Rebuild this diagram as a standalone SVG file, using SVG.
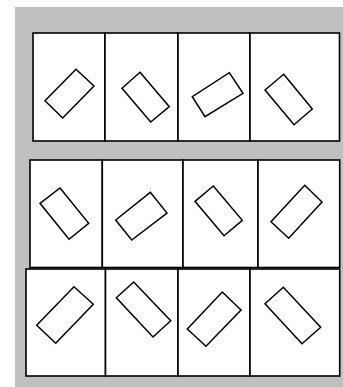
<svg xmlns="http://www.w3.org/2000/svg" width="343" height="387" viewBox="0 0 343 387">
<style>
.cell{fill:#fff;stroke:#000;stroke-width:1.6}
.box{fill:#fff;stroke:#000;stroke-width:1.5;stroke-linejoin:miter}
</style>
<rect x="0" y="0" width="343" height="387" fill="#fff"/>
<rect x="15" y="7" width="328" height="380" fill="#c0c0c0"/>
<g id="row1">
<g id="r1c1"><rect class="cell" x="33" y="33" width="72" height="108"/><polygon class="box" points="76,69.3 94,86 62.7,118 45,100.7"/></g>
<g id="r1c2"><rect class="cell" x="105" y="33" width="73" height="108"/><polygon class="box" points="140,72.3 169.3,106.7 150.7,122 122,88.3"/></g>
<g id="r1c3"><rect class="cell" x="178" y="33" width="72" height="108"/><polygon class="box" points="229.3,72.7 243,93.3 205,116.7 192.3,96.7"/></g>
<g id="r1c4"><rect class="cell" x="250" y="33" width="89.5" height="108"/><polygon class="box" points="283.7,74.3 312.3,109 294,124.7 265,90"/></g>
</g>
<g id="row2">
<g id="r2c1"><rect class="cell" x="30" y="160" width="72.3" height="107.5"/><polygon class="box" points="60,188 88.7,223.3 69,239.3 40,203.3"/></g>
<g id="r2c2"><rect class="cell" x="102.3" y="160" width="80.7" height="107.5"/><polygon class="box" points="150.3,192.3 167,213 131.7,240 115.7,220"/></g>
<g id="r2c3"><rect class="cell" x="183" y="160" width="75" height="107.5"/><polygon class="box" points="213.3,186 242.3,220.3 224,235.7 195,201.3"/></g>
<g id="r2c4"><rect class="cell" x="258" y="160" width="81.7" height="107.5"/><polygon class="box" points="304.7,185.3 322,202 288.7,238.3 271,221.7"/></g>
</g>
<g id="row3">
<g id="r3c1"><rect class="cell" x="26" y="269" width="79.5" height="107"/><polygon class="box" points="74,286.7 93.3,304.3 55.7,343.3 36.7,325.3"/></g>
<g id="r3c2"><rect class="cell" x="105.5" y="269" width="72.5" height="107"/><polygon class="box" points="133.7,282 170.7,320.7 153,337 116.3,297.7"/></g>
<g id="r3c3"><rect class="cell" x="178" y="269" width="72" height="107"/><polygon class="box" points="222.3,292 241,310 206,346.3 187.3,329"/></g>
<g id="r3c4"><rect class="cell" x="250" y="269" width="89.7" height="107"/><polygon class="box" points="283.3,287.3 320.7,327.3 302,343.7 265,303.7"/></g>
</g>
<g id="connectors"></g>
</svg>
